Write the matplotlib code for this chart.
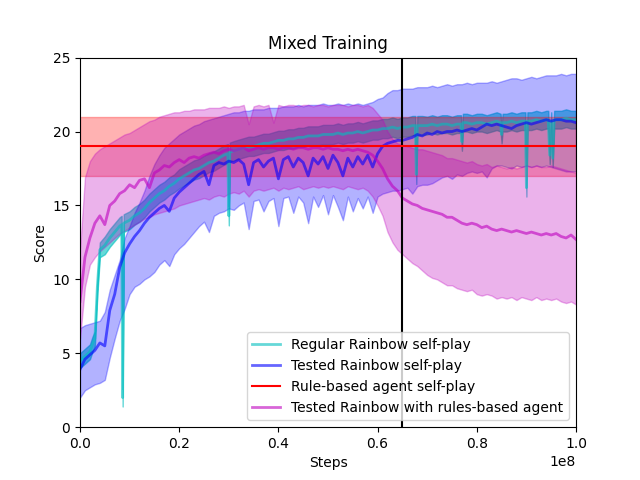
import numpy as np
import matplotlib
matplotlib.use("Agg")
import matplotlib.pyplot as plt

steps = np.linspace(0, 1e8, 101)

# Regular Rainbow self-play (own sample positions, in units of 1e8 steps)
regular_x = [0.000, 0.010, 0.020, 0.025, 0.030, 0.035, 0.040, 0.050, 0.060, 0.070,
             0.080, 0.084, 0.086, 0.088, 0.100, 0.110, 0.120, 0.130, 0.140, 0.150,
             0.160, 0.170, 0.180, 0.190, 0.200, 0.210, 0.220, 0.230, 0.240, 0.250,
             0.260, 0.270, 0.280, 0.290, 0.298, 0.300, 0.302, 0.310, 0.320, 0.330,
             0.340, 0.350, 0.360, 0.370, 0.380, 0.390, 0.400, 0.410, 0.420, 0.430,
             0.440, 0.450, 0.460, 0.470, 0.480, 0.490, 0.500, 0.510, 0.520, 0.530,
             0.540, 0.550, 0.560, 0.570, 0.580, 0.590, 0.600, 0.610, 0.620, 0.630,
             0.640, 0.650, 0.660, 0.670, 0.676, 0.678, 0.680, 0.690, 0.700, 0.710,
             0.720, 0.730, 0.740, 0.750, 0.760, 0.768, 0.770, 0.772, 0.780, 0.790,
             0.800, 0.810, 0.820, 0.830, 0.840, 0.848, 0.850, 0.852, 0.860, 0.870,
             0.880, 0.890, 0.898, 0.900, 0.902, 0.910, 0.920, 0.930, 0.940, 0.944,
             0.947, 0.950, 0.953, 0.956, 0.960, 0.970, 0.980, 0.990, 1.000]
regular_mean = [4.5, 4.8, 5.1, 5.6, 6.0, 9.5, 12.0, 12.3, 12.8, 13.2,
                13.6, 13.7, 2.0, 13.8, 14.0, 14.3, 14.5, 14.8, 15.2, 15.5,
                15.8, 16.0, 16.3, 16.5, 16.8, 17.0, 17.2, 17.4, 17.5, 17.7,
                17.9, 18.0, 18.2, 18.4, 18.5, 14.3, 18.6, 18.7, 18.8, 18.9,
                19.0, 19.0, 19.1, 19.2, 19.2, 19.3, 19.4, 19.4, 19.5, 19.5,
                19.6, 19.6, 19.7, 19.7, 19.7, 19.8, 19.8, 19.8, 19.9, 19.8,
                19.9, 19.9, 20.0, 19.9, 20.0, 20.1, 20.1, 20.2, 20.2, 20.3,
                20.2, 20.3, 20.3, 20.4, 20.4, 17.1, 20.4, 20.4, 20.4, 20.5,
                20.4, 20.5, 20.5, 20.4, 20.5, 20.5, 19.3, 20.6, 20.6, 20.5,
                20.6, 20.6, 20.5, 20.6, 20.7, 20.6, 19.8, 20.6, 20.6, 20.7,
                20.6, 20.7, 20.7, 16.2, 20.7, 20.7, 20.8, 20.7, 20.8, 20.8,
                18.4, 20.7, 18.2, 20.8, 20.8, 20.8, 20.9, 20.8, 20.8]
regular_std = [0.5, 0.5, 0.5, 0.5, 0.5, 0.5, 0.5, 0.6, 0.6, 0.6,
               0.6, 0.6, 0.6, 0.6, 0.6, 0.6, 0.6, 0.6, 0.6, 0.6,
               0.6, 0.6, 0.6, 0.6, 0.65, 0.65, 0.65, 0.65, 0.65, 0.65,
               0.65, 0.65, 0.65, 0.65, 0.65, 0.65, 0.65, 0.65, 0.65, 0.65,
               0.65, 0.65, 0.65, 0.65, 0.65, 0.65, 0.65, 0.65, 0.65, 0.65,
               0.65, 0.65, 0.65, 0.65, 0.65, 0.65, 0.65, 0.65, 0.65, 0.65,
               0.65, 0.65, 0.65, 0.65, 0.65, 0.65, 0.65, 0.65, 0.65, 0.65,
               0.65, 0.65, 0.65, 0.65, 0.65, 0.65, 0.65, 0.65, 0.6, 0.6,
               0.6, 0.6, 0.6, 0.6, 0.6, 0.6, 0.6, 0.6, 0.6, 0.6,
               0.6, 0.6, 0.6, 0.6, 0.6, 0.6, 0.6, 0.6, 0.6, 0.6,
               0.6, 0.6, 0.6, 0.6, 0.6, 0.6, 0.6, 0.6, 0.6, 0.6,
               0.6, 0.6, 0.6, 0.6, 0.6, 0.6, 0.6, 0.6, 0.6]

tested_mean = [3.9, 4.6, 4.9, 5.2, 5.7, 5.5, 7.9, 9.0, 10.8, 11.8,
               12.4, 12.9, 13.3, 13.8, 14.2, 14.5, 14.8, 15.0, 14.6, 15.5,
               15.9, 16.2, 16.5, 16.8, 17.1, 17.3, 16.4, 17.7, 17.9, 17.8,
               18.0, 17.9, 18.1, 17.8, 16.4, 17.9, 18.1, 17.6, 18.0, 18.2,
               16.8, 18.1, 18.3, 17.6, 18.2, 17.9, 17.0, 18.2, 17.8, 18.3,
               17.5, 18.4, 17.9, 17.0, 18.2, 17.6, 18.3, 17.8, 18.4, 17.6,
               18.5, 19.0, 19.2, 19.3, 19.4, 19.4, 19.5, 19.6, 19.8, 19.7,
               19.9, 19.8, 20.0, 19.9, 20.0, 20.0, 20.1, 20.0, 20.1, 20.2,
               20.1, 20.3, 20.5, 20.4, 20.5, 20.4, 20.3, 20.2, 20.4, 20.5,
               20.6, 20.5, 20.6, 20.7, 20.8, 20.7, 20.8, 20.8, 20.7, 20.7,
               20.6]
tested_hi = [6.7, 6.9, 7.0, 7.1, 7.2, 7.8, 9.3, 10.3, 11.3, 12.8,
             13.6, 14.5, 15.2, 16.0, 17.0, 17.8, 18.4, 18.9, 19.2, 19.5,
             19.8, 20.0, 20.2, 20.4, 20.5, 20.7, 20.8, 20.9, 21.0, 21.1,
             21.2, 21.3, 21.3, 21.4, 21.4, 21.5, 21.5, 21.5, 21.6, 21.6,
             21.6, 21.7, 21.7, 21.7, 21.8, 21.7, 21.8, 21.8, 21.8, 21.9,
             21.8, 21.8, 21.9, 21.8, 21.9, 21.8, 21.9, 21.8, 21.9, 22.0,
             22.2, 22.3, 22.6, 22.8, 22.8, 22.9, 22.9, 22.9, 23.0, 23.0,
             23.0, 23.1, 23.0, 23.1, 23.2, 23.1, 23.2, 23.2, 23.3, 23.2,
             23.3, 23.3, 23.3, 23.4, 23.3, 23.4, 23.5, 23.6, 23.6, 23.5,
             23.6, 23.7, 23.6, 23.7, 23.8, 23.8, 23.8, 23.9, 23.8, 23.9,
             23.9]
tested_lo = [2.0, 2.5, 2.7, 2.9, 3.0, 3.2, 4.7, 6.0, 7.2, 8.0,
             9.0, 9.5, 9.7, 10.0, 10.2, 10.5, 11.0, 11.3, 10.9, 11.7,
             12.1, 12.4, 12.8, 13.2, 13.6, 13.9, 13.2, 14.3, 14.5, 14.6,
             14.8, 14.7, 15.0, 15.2, 13.4, 15.3, 15.4, 14.6, 15.3, 15.5,
             13.6, 15.5, 15.6, 14.5, 15.6, 15.2, 13.8, 15.6, 14.9, 15.7,
             14.4, 15.7, 14.9, 14.0, 15.6, 14.6, 15.5, 14.8, 15.6, 14.5,
             15.6, 15.8, 15.9, 16.0, 16.0, 16.1, 16.2, 15.8, 16.3, 16.4,
             16.4, 16.5, 16.7, 16.9, 17.0, 16.8, 17.1, 17.0, 17.2, 17.3,
             17.2, 17.3, 16.9, 17.5, 17.7, 17.7, 17.6, 17.5, 17.7, 17.6,
             17.7, 17.6, 17.7, 17.6, 17.7, 17.6, 17.5, 17.4, 17.3, 17.3,
             17.3]

rule_mean = 19.0
rule_lo = 17.0
rule_hi = 21.0

mixed_mean = [8.5, 11.5, 12.8, 13.8, 14.3, 13.7, 15.0, 15.3, 15.8, 16.0,
              16.4, 16.2, 16.7, 16.8, 16.2, 17.2, 17.4, 17.7, 17.6, 17.9,
              18.1, 17.9, 18.2, 18.3, 18.2, 18.4, 18.5, 18.6, 18.5, 18.7,
              18.8, 18.7, 18.8, 18.9, 18.7, 18.8, 18.9, 18.8, 18.9, 18.9,
              18.8, 18.9, 18.9, 18.8, 18.9, 18.9, 18.8, 18.9, 18.9, 18.8,
              18.9, 18.8, 18.8, 18.7, 18.8, 18.7, 18.8, 18.7, 18.6, 18.4,
              18.0, 17.5, 16.8, 16.3, 16.0, 15.5, 15.3, 15.1, 15.0, 14.8,
              14.7, 14.6, 14.5, 14.4, 14.2, 14.2, 14.0, 13.8, 13.7, 13.8,
              13.7, 13.5, 13.6, 13.4, 13.3, 13.4, 13.3, 13.2, 13.3, 13.2,
              13.1, 13.2, 13.1, 13.0, 13.1, 13.0, 13.1, 12.9, 12.8, 13.0,
              12.7]
mixed_hi = [12.0, 16.9, 18.0, 18.5, 18.8, 19.0, 19.2, 19.4, 19.6, 19.8,
            19.9, 20.1, 20.3, 20.5, 20.7, 20.8, 21.0, 21.1, 21.2, 21.3,
            21.3, 21.4, 21.4, 21.5, 21.5, 21.5, 21.6, 21.6, 21.6, 21.7,
            21.6, 21.7, 21.7, 21.8, 20.5, 21.7, 21.8, 21.7, 21.8, 20.6,
            21.8, 21.7, 21.8, 21.8, 21.7, 21.8, 21.8, 21.7, 21.8, 21.8,
            21.7, 21.8, 21.8, 21.8, 21.7, 21.8, 21.8, 21.7, 21.8, 21.6,
            21.2, 20.8, 20.0, 19.5, 19.2, 19.1, 19.0, 18.9, 18.8, 18.8,
            18.7, 18.6, 18.5, 18.4, 18.2, 18.2, 18.1, 18.0, 17.9, 18.0,
            17.8, 17.7, 17.8, 17.6, 17.7, 17.6, 17.5, 17.6, 17.5, 17.6,
            17.7, 17.6, 17.7, 17.6, 17.6, 17.7, 17.6, 17.5, 17.4, 17.3,
            17.2]
mixed_lo = [6.0, 9.5, 11.0, 11.5, 11.9, 12.2, 12.5, 12.8, 13.1, 13.3,
            13.5, 13.7, 13.9, 14.1, 14.2, 14.4, 14.5, 14.6, 14.7, 14.8,
            15.0, 15.1, 15.2, 15.3, 15.4, 15.5, 15.4, 15.6, 15.7, 15.6,
            15.8, 15.9, 15.8, 16.0, 15.6, 16.0, 16.1, 16.0, 16.1, 16.2,
            16.0, 16.2, 16.1, 16.2, 16.3, 16.1, 16.2, 16.3, 16.2, 16.3,
            16.2, 16.3, 16.2, 16.1, 16.3, 16.2, 16.1, 16.2, 16.0, 15.6,
            15.0, 14.3, 13.2, 12.5, 12.0, 11.7, 11.4, 11.1, 10.9, 10.6,
            10.3, 10.1, 10.0, 9.8, 9.6, 9.6, 9.4, 9.3, 9.2, 9.3,
            9.0, 8.9, 9.0, 8.9, 8.7, 8.8, 8.7, 8.8, 8.6, 8.8,
            8.7, 8.6, 8.8, 8.6, 8.7, 8.6, 8.7, 8.5, 8.4, 8.5,
            8.3]

switch_step = 0.65e8

labels = ["Regular Rainbow self-play", "Tested Rainbow self-play",
          "Rule-based agent self-play", "Tested Rainbow with rules-based agent"]

fig, ax = plt.subplots(figsize=(6.4, 4.8), dpi=100)

reg_x = np.array(regular_x) * 1e8
reg_m = np.array(regular_mean)
reg_s = np.array(regular_std)
ax.plot(reg_x, reg_m, color="c", alpha=0.6, lw=2, label=labels[0])
ax.fill_between(reg_x, reg_m - reg_s, reg_m + reg_s, color="c", alpha=0.6)

ax.plot(steps, tested_mean, color="b", alpha=0.6, lw=2, label=labels[1])
ax.fill_between(steps, tested_lo, tested_hi, color="b", alpha=0.3)

ax.plot(steps, [rule_mean] * len(steps), color="r", lw=1.5, label=labels[2], zorder=5)
ax.fill_between(steps, [rule_lo] * len(steps), [rule_hi] * len(steps), color="r", alpha=0.3)

ax.plot(steps, mixed_mean, color="m", alpha=0.6, lw=2, label=labels[3])
ax.fill_between(steps, mixed_lo, mixed_hi, color="m", alpha=0.3)

ax.axvline(switch_step, color="k", lw=1.5)

ax.set_xlim(0, 1e8)
ax.set_ylim(0, 25)
ax.set_title("Mixed Training")
ax.set_xlabel("Steps")
ax.set_ylabel("Score")
ax.legend(loc="lower right")

fig.savefig("out.png", dpi=100)
